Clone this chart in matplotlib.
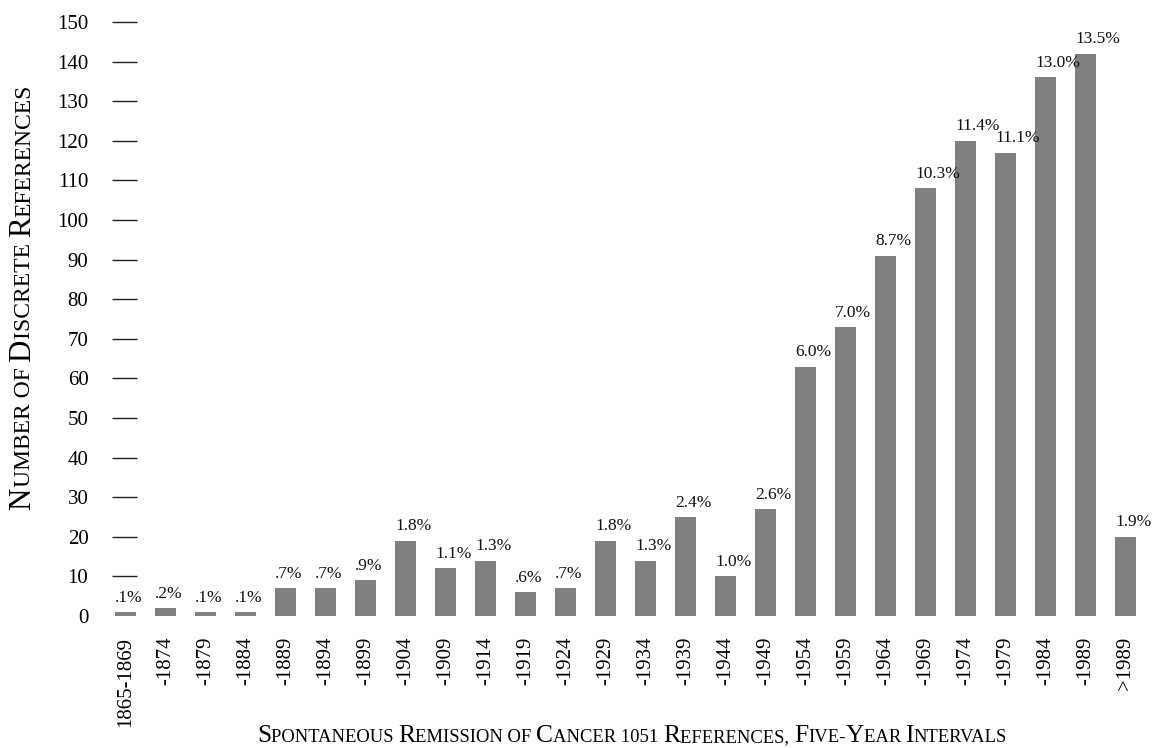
import matplotlib
matplotlib.use("Agg")
import matplotlib.pyplot as plt
import numpy as np

periods = ["1865-1869", "-1874", "-1879", "-1884", "-1889", "-1894", "-1899",
           "-1904", "-1909", "-1914", "-1919", "-1924", "-1929", "-1934",
           "-1939", "-1944", "-1949", "-1954", "-1959", "-1964", "-1969",
           "-1974", "-1979", "-1984", "-1989", ">1989"]
counts = [1, 2, 1, 1, 7, 7, 9, 19, 12, 14, 6, 7, 19, 14,
          25, 10, 27, 63, 73, 91, 108, 120, 117, 136, 142, 20]
shares = [".1%", ".2%", ".1%", ".1%", ".7%", ".7%", ".9%", "1.8%", "1.1%",
          "1.3%", ".6%", ".7%", "1.8%", "1.3%", "2.4%", "1.0%", "2.6%",
          "6.0%", "7.0%", "8.7%", "10.3%", "11.4%", "11.1%", "13.0%",
          "13.5%", "1.9%"]
yticks = list(range(10, 151, 10))

xlabel = "Spontaneous Remission of Cancer 1051 References, Five-Year Intervals"
ylabel = "Number of Discrete References"

plt.rcParams["font.family"] = ["Liberation Serif", "DejaVu Serif"]

W, H = 1159, 748
fig = plt.figure(figsize=(W / 100, H / 100), dpi=100)
ax = fig.add_axes([112 / W, 132 / H, 1040 / W, 594 / H])

x = np.arange(len(periods))
bw = 0.52
ax.bar(x, counts, width=bw, color="#808080")
for xi, c, s in zip(x, counts, shares):
    ax.annotate(s, (xi - bw / 2, c), xytext=(0, 7.5), textcoords="offset points",
                ha="left", va="baseline", fontsize=12.5, color="#111111")

ax.set_xlim(-0.3375, len(periods) - 0.3375)
ax.set_ylim(0, 150)
ax.set_xticks(x)
ax.set_xticklabels(periods, rotation=90, fontsize=15)
ax.tick_params(axis="x", length=0, pad=15)
ax.set_yticks([0] + yticks)
ax.set_yticklabels(["0"] + [str(v) for v in yticks], fontsize=15)
ax.tick_params(axis="y", direction="in", length=18, width=1, pad=17, color="#222222")
ax.yaxis.get_major_ticks()[0].tick1line.set_visible(False)
for sp in ax.spines.values():
    sp.set_visible(False)

# fake small caps: capitals big, lowercase shown as smaller capitals
renderer = fig.canvas.get_renderer()


def runs_of(text, big, small):
    out = []
    for ch in text:
        size = big if ch.isupper() else small
        ch = ch.upper()
        if out and out[-1][1] == size:
            out[-1][0] += ch
        else:
            out.append([ch, size])
    return out


def run_width(s, size):
    t1 = fig.text(0, 0, "|" + s + "|", fontsize=size)
    t2 = fig.text(0, 0, "||", fontsize=size)
    w = t1.get_window_extent(renderer).width - t2.get_window_extent(renderer).width
    t1.remove()
    t2.remove()
    return w


def small_caps(text, big, small, cx, cy, vertical=False):
    runs = runs_of(text, big, small)
    widths = [run_width(s, sz) for s, sz in runs]
    pos = (cy if vertical else cx) - sum(widths) / 2
    for (s, sz), w in zip(runs, widths):
        if vertical:
            fig.text(cx / W, pos / H, s, fontsize=sz, rotation=90,
                     rotation_mode="anchor", ha="left", va="baseline")
        else:
            fig.text(pos / W, cy / H, s, fontsize=sz, ha="left", va="baseline")
        pos += w


small_caps(xlabel, 18.4, 13.4, 632, 6)
small_caps(ylabel, 22.3, 17, 30, 748 - 297, vertical=True)

fig.savefig("out.png", dpi=100)
